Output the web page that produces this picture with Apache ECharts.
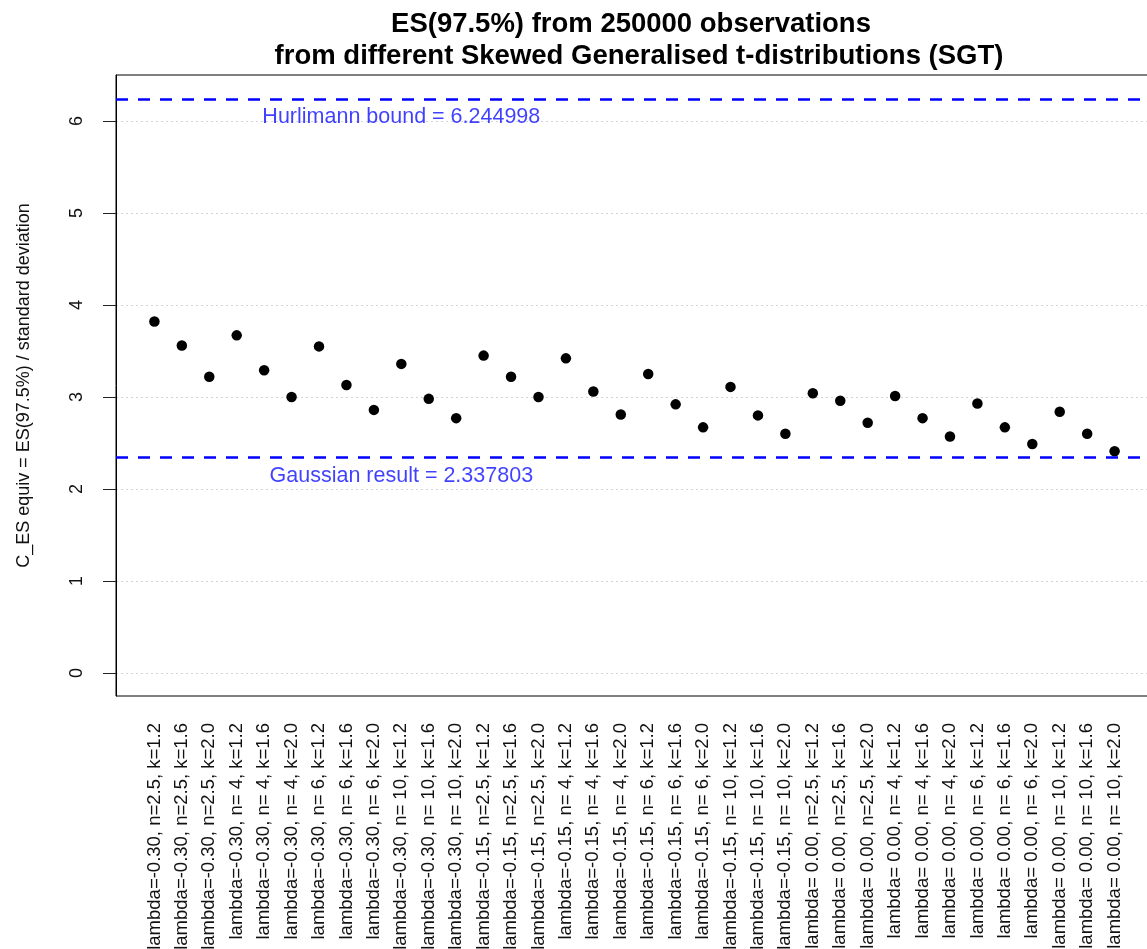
<!DOCTYPE html>
<html>
<head>
<meta charset="utf-8">
<script src="https://cdn.jsdelivr.net/npm/echarts@6/dist/echarts.min.js"></script>
<style>
html,body{margin:0;padding:0;background:#fff;}
#chart{width:1147px;height:949px;}
</style>
</head>
<body>
<div id="chart"></div>
<script>
// ---- data ----
const lambdaLabels = ['-0.30', '-0.15', ' 0.00'];
const nLabels = ['2.5', ' 4', ' 6', ' 10'];
const kLabels = ['1.2', '1.6', '2.0'];

const categories = [];
lambdaLabels.forEach(l => nLabels.forEach(n => kLabels.forEach(k => {
  categories.push('lambda=' + l + ', n=' + n + ', k=' + k);
})));

const esValues = [
  3.82, 3.56, 3.22, 3.67, 3.29, 3.00, 3.55, 3.13, 2.86, 3.36, 2.98, 2.77,
  3.45, 3.22, 3.00, 3.42, 3.06, 2.81, 3.25, 2.92, 2.67, 3.11, 2.80, 2.60,
  3.04, 2.96, 2.72, 3.01, 2.77, 2.57, 2.93, 2.67, 2.49, 2.84, 2.60, 2.41
];

const yTicks = [0, 1, 2, 3, 4, 5, 6];
const hurlimannBound = 6.244998;
const gaussianResult = 2.337803;
const hurlimannText = 'Hurlimann bound = 6.244998';
const gaussianText = 'Gaussian result = 2.337803';
const annotIndex = 9;      // category index where the annotation text is centred
const annotOffset = 0.2;   // annotation text sits this far below its line

const titleLine1 = 'ES(97.5%) from 250000 observations';
const titleLine2 = 'from different Skewed Generalised t-distributions (SGT)';
const yName = 'C_ES equiv = ES(97.5%) / standard deviation';

// ---- chart ----
const chart = echarts.init(document.getElementById('chart'), null, {renderer: 'canvas'});
const font = 'Liberation Sans, Arial, sans-serif';
const idx = categories.map((c, i) => i);

const option = {
  backgroundColor: '#fff',
  animation: false,
  title: [
    {text: titleLine1, left: 626, top: 5, textAlign: 'center',
     textStyle: {fontFamily: font, fontSize: 27.5, fontWeight: 'bold', color: '#000'}},
    {text: titleLine2, left: 634, top: 37, textAlign: 'center',
     textStyle: {fontFamily: font, fontSize: 27.5, fontWeight: 'bold', color: '#000'}}
  ],
  grid: {left: 116, width: 1037, top: 75, bottom: 253, show: true,
         outerBoundsMode: 'none', containLabel: false,
         borderColor: '#000', borderWidth: 1, backgroundColor: 'transparent'},
  xAxis: {
    type: 'value', min: -1.4, max: 36.4,
    axisLine: {show: false, onZero: false},
    axisTick: {show: false},
    splitLine: {show: false},
    axisLabel: {
      customValues: idx,
      rotate: 90, margin: 27,
      fontFamily: font, fontSize: 18.5, color: '#111',
      formatter: v => categories[Math.round(v)] || ''
    }
  },
  yAxis: {
    type: 'value', min: -0.25, max: 6.5,
    name: yName, nameLocation: 'middle', nameRotate: 90, nameGap: 83,
    nameTextStyle: {fontFamily: font, fontSize: 18, color: '#111'},
    axisLine: {show: true, onZero: false, lineStyle: {color: '#000', width: 1}},
    axisTick: {show: true, customValues: yTicks, length: 13, lineStyle: {color: '#222'}},
    axisLabel: {customValues: yTicks, rotate: 90, margin: 30,
                fontFamily: font, fontSize: 18, color: '#111'},
    splitLine: {show: true, lineStyle: {color: '#d3d3d3', type: [2, 3], width: 1}}
  },
  series: [
    {
      type: 'scatter',
      data: esValues.map((v, i) => [i, v]),
      symbol: 'circle', symbolSize: 10.5,
      itemStyle: {color: '#000', opacity: 1},
      markLine: {
        silent: true, symbol: 'none',
        label: {show: false},
        lineStyle: {color: '#0000ff', type: [12, 10], width: 2.5},
        data: [{yAxis: hurlimannBound}, {yAxis: gaussianResult}]
      },
      z: 3
    },
    {
      type: 'scatter',
      symbolSize: 0,
      data: [
        {value: [annotIndex, hurlimannBound - annotOffset], name: hurlimannText},
        {value: [annotIndex, gaussianResult - annotOffset], name: gaussianText}
      ],
      label: {show: true, position: 'inside', formatter: p => p.name,
              fontFamily: font, fontSize: 21.5, color: '#1010ff'},
      silent: true
    }
  ]
};
chart.setOption(option);
</script>
</body>
</html>
